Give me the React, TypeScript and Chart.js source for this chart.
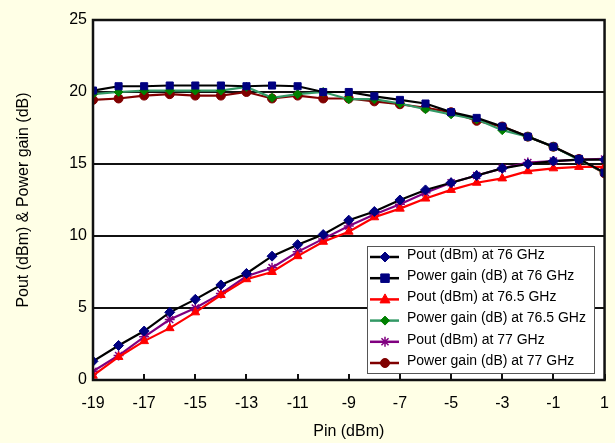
import React, { useEffect, useRef } from "react";
import { Chart, registerables } from "chart.js";

Chart.register(...registerables);

const pinValues = [-19, -18, -17, -16, -15, -14, -13, -12, -11, -10, -9, -8, -7, -6, -5, -4, -3, -2, -1, 0, 1];
const xTickLabels = [-19, -17, -15, -13, -11, -9, -7, -5, -3, -1, 1];
const yTickLabels = [0, 5, 10, 15, 20, 25];

const poutAt76 = [1.3, 2.4, 3.4, 4.7, 5.6, 6.6, 7.4, 8.6, 9.4, 10.1, 11.1, 11.7, 12.5, 13.2, 13.7, 14.2, 14.7, 15.0, 15.2, 15.3, 15.3];
const gainAt76 = [20.1, 20.4, 20.4, 20.45, 20.45, 20.45, 20.4, 20.45, 20.4, 20.0, 20.0, 19.7, 19.45, 19.2, 18.6, 18.2, 17.6, 16.9, 16.2, 15.35, 14.4];
const poutAt765 = [0.3, 1.6, 2.7, 3.6, 4.7, 5.9, 7.0, 7.5, 8.6, 9.6, 10.3, 11.3, 11.9, 12.6, 13.2, 13.7, 14.0, 14.5, 14.7, 14.8, 14.8];
const gainAt765 = [19.85, 20.0, 20.1, 20.1, 20.1, 20.1, 20.35, 19.6, 19.85, 20.0, 19.5, 19.5, 19.2, 18.8, 18.45, 18.1, 17.35, 16.9, 16.2, 15.3, 14.4];
const poutAt77 = [0.6, 1.7, 3.0, 4.2, 5.0, 6.0, 7.2, 7.8, 8.9, 9.8, 10.7, 11.5, 12.2, 13.0, 13.7, 14.2, 14.7, 15.1, 15.2, 15.3, 15.35];
const gainAt77 = [19.45, 19.55, 19.75, 19.85, 19.75, 19.75, 20.0, 19.55, 19.75, 19.55, 19.55, 19.35, 19.15, 18.9, 18.6, 18.0, 17.6, 16.9, 16.2, 15.35, 14.35];

const seriesLabels = [
  "Pout (dBm) at 76 GHz",
  "Power gain (dB) at 76 GHz",
  "Pout (dBm) at 76.5 GHz",
  "Power gain (dB) at 76.5 GHz",
  "Pout (dBm) at 77 GHz",
  "Power gain (dB) at 77 GHz",
];

const FONT = "'Liberation Sans', Arial, sans-serif";

function toPoints(vals: number[]) {
  return vals.map((v, i) => ({ x: pinValues[i], y: v }));
}

function drawMarker(ctx: CanvasRenderingContext2D, style: string, x: number, y: number, r: number) {
  ctx.beginPath();
  if (style === "rectRot") {
    ctx.moveTo(x, y - r);
    ctx.lineTo(x + r, y);
    ctx.lineTo(x, y + r);
    ctx.lineTo(x - r, y);
    ctx.closePath();
    ctx.fill();
    ctx.stroke();
  } else if (style === "rect") {
    ctx.rect(x - r * 0.85, y - r * 0.85, r * 1.7, r * 1.7);
    ctx.fill();
    ctx.stroke();
  } else if (style === "triangle") {
    ctx.moveTo(x, y - r * 1.1);
    ctx.lineTo(x + r, y + r * 0.7);
    ctx.lineTo(x - r, y + r * 0.7);
    ctx.closePath();
    ctx.fill();
    ctx.stroke();
  } else if (style === "star") {
    for (let k = 0; k < 4; k++) {
      const a = (k * Math.PI) / 4;
      ctx.moveTo(x + Math.cos(a) * r, y + Math.sin(a) * r);
      ctx.lineTo(x - Math.cos(a) * r, y - Math.sin(a) * r);
    }
    ctx.stroke();
  } else {
    ctx.arc(x, y, r, 0, Math.PI * 2);
    ctx.fill();
    ctx.stroke();
  }
}

const legendPlugin = {
  id: "insideLegend",
  afterDraw(chart: any) {
    const ctx = chart.ctx;
    const xs = chart.scales.x;
    const ys = chart.scales.y;
    const left = Math.round(xs.getPixelForValue(-8.3));
    const right = Math.round(xs.getPixelForValue(0.6));
    const top = Math.round(ys.getPixelForValue(9.3));
    const bottom = Math.round(ys.getPixelForValue(0.5));
    ctx.save();
    ctx.fillStyle = "#ffffff";
    ctx.fillRect(left, top, right - left, bottom - top);
    ctx.strokeStyle = "#555555";
    ctx.lineWidth = 1;
    ctx.strokeRect(left + 0.5, top + 0.5, right - left, bottom - top);
    const rowH = (bottom - top - 21) / 5;
    chart.data.datasets.forEach((ds: any, i: number) => {
      const cy = top + 9 + rowH * i;
      ctx.strokeStyle = ds.borderColor;
      ctx.lineWidth = 2.5;
      ctx.beginPath();
      ctx.moveTo(left + 3, cy + 2);
      ctx.lineTo(left + 32, cy + 2);
      ctx.stroke();
      ctx.fillStyle = ds.pointBackgroundColor;
      ctx.strokeStyle = ds.pointBorderColor;
      ctx.lineWidth = ds.pointBorderWidth || 1;
      drawMarker(ctx, ds.pointStyle, left + 18, cy + 2, ds.pointRadius);
      ctx.fillStyle = "#000000";
      ctx.font = "14px " + FONT;
      ctx.textBaseline = "middle";
      ctx.textAlign = "left";
      ctx.fillText(ds.label, left + 40, cy);
    });
    ctx.restore();
  },
};

const frameAndTicksPlugin = {
  id: "frameAndTicks",
  afterDatasetsDraw(chart: any) {
    const ctx = chart.ctx;
    const a = chart.chartArea;
    const xs = chart.scales.x;
    ctx.save();
    ctx.strokeStyle = "#111111";
    ctx.lineWidth = 2;
    xTickLabels.forEach((v) => {
      const px = Math.round(xs.getPixelForValue(v));
      ctx.beginPath();
      ctx.moveTo(px, a.bottom);
      ctx.lineTo(px, a.bottom - 6);
      ctx.stroke();
    });
    ctx.lineWidth = 2.5;
    ctx.strokeRect(a.left, a.top, a.right - a.left, a.bottom - a.top);
    ctx.restore();
  },
};

const bgPlugin = {
  id: "plotBg",
  beforeDraw(chart: any) {
    const ctx = chart.ctx;
    const a = chart.chartArea;
    ctx.save();
    ctx.fillStyle = "#ffffe6";
    ctx.fillRect(0, 0, chart.width, chart.height);
    ctx.fillStyle = "#ffffff";
    ctx.fillRect(a.left, a.top, a.right - a.left, a.bottom - a.top);
    ctx.restore();
  },
};

export default function App() {
  const ref = useRef<HTMLCanvasElement | null>(null);
  useEffect(() => {
    if (!ref.current) return;
    const mk = (label: string, data: number[], line: string, fill: string, style: string, r: number) => ({
      label,
      data: toPoints(data),
      borderColor: line,
      backgroundColor: fill,
      pointBackgroundColor: fill,
      pointBorderColor: fill,
      pointBorderWidth: style === "star" ? 1.5 : 1,
      pointStyle: style,
      pointRadius: r,
      borderWidth: 2.2,
      tension: 0,
      fill: false,
    });
    const chart = new Chart(ref.current, {
      type: "line",
      data: {
        datasets: [
          mk(seriesLabels[0], poutAt76, "#000000", "#000080", "rectRot", 5),
          mk(seriesLabels[1], gainAt76, "#000000", "#000080", "rect", 5),
          mk(seriesLabels[2], poutAt765, "#ff0000", "#ff0000", "triangle", 5),
          mk(seriesLabels[3], gainAt765, "#339966", "#008000", "rectRot", 4.5),
          mk(seriesLabels[4], poutAt77, "#800080", "#800080", "star", 5),
          mk(seriesLabels[5], gainAt77, "#800000", "#800000", "circle", 4.5),
        ] as any,
      },
      options: {
        animation: false,
        responsive: false,
        maintainAspectRatio: false,
        layout: { padding: { left: 14, right: 10, top: 20, bottom: 0 } },
        plugins: {
          legend: { display: false },
          tooltip: { enabled: false },
        },
        scales: {
          x: {
            type: "linear",
            min: -19,
            max: 1,
            afterBuildTicks: (s: any) => {
              s.ticks = xTickLabels.map((v) => ({ value: v }));
            },
            afterFit: (s: any) => {
              s.height = 63;
            },
            grid: { display: false },
            border: { display: false },
            ticks: {
              color: "#000000",
              font: { family: FONT, size: 16 },
              padding: 6,
              maxRotation: 0,
              autoSkip: false,
            },
            title: {
              display: true,
              text: "Pin (dBm)",
              color: "#000000",
              font: { family: FONT, size: 16 },
              padding: { top: 10, bottom: 2 },
            },
          },
          y: {
            type: "linear",
            min: 0,
            max: 25,
            afterBuildTicks: (s: any) => {
              s.ticks = yTickLabels.map((v) => ({ value: v }));
            },
            afterFit: (s: any) => {
              s.width = 79;
            },
            grid: {
              color: "#111111",
              lineWidth: 2,
              drawTicks: false,
            },
            border: { display: false },
            ticks: {
              color: "#000000",
              font: { family: FONT, size: 16 },
              padding: 6,
            },
            title: {
              display: true,
              text: "Pout (dBm) & Power gain (dB)",
              color: "#000000",
              font: { family: FONT, size: 16 },
              padding: { top: 0, bottom: 10 },
            },
          },
        },
      },
      plugins: [bgPlugin, frameAndTicksPlugin, legendPlugin],
    } as any);
    return () => chart.destroy();
  }, []);
  return (
    <div style={{ position: "absolute", left: 0, top: 0, width: 615, height: 443, background: "#ffffe6" }}>
      <canvas ref={ref} width={615} height={443} style={{ display: "block", width: 615, height: 443 }} />
    </div>
  );
}
